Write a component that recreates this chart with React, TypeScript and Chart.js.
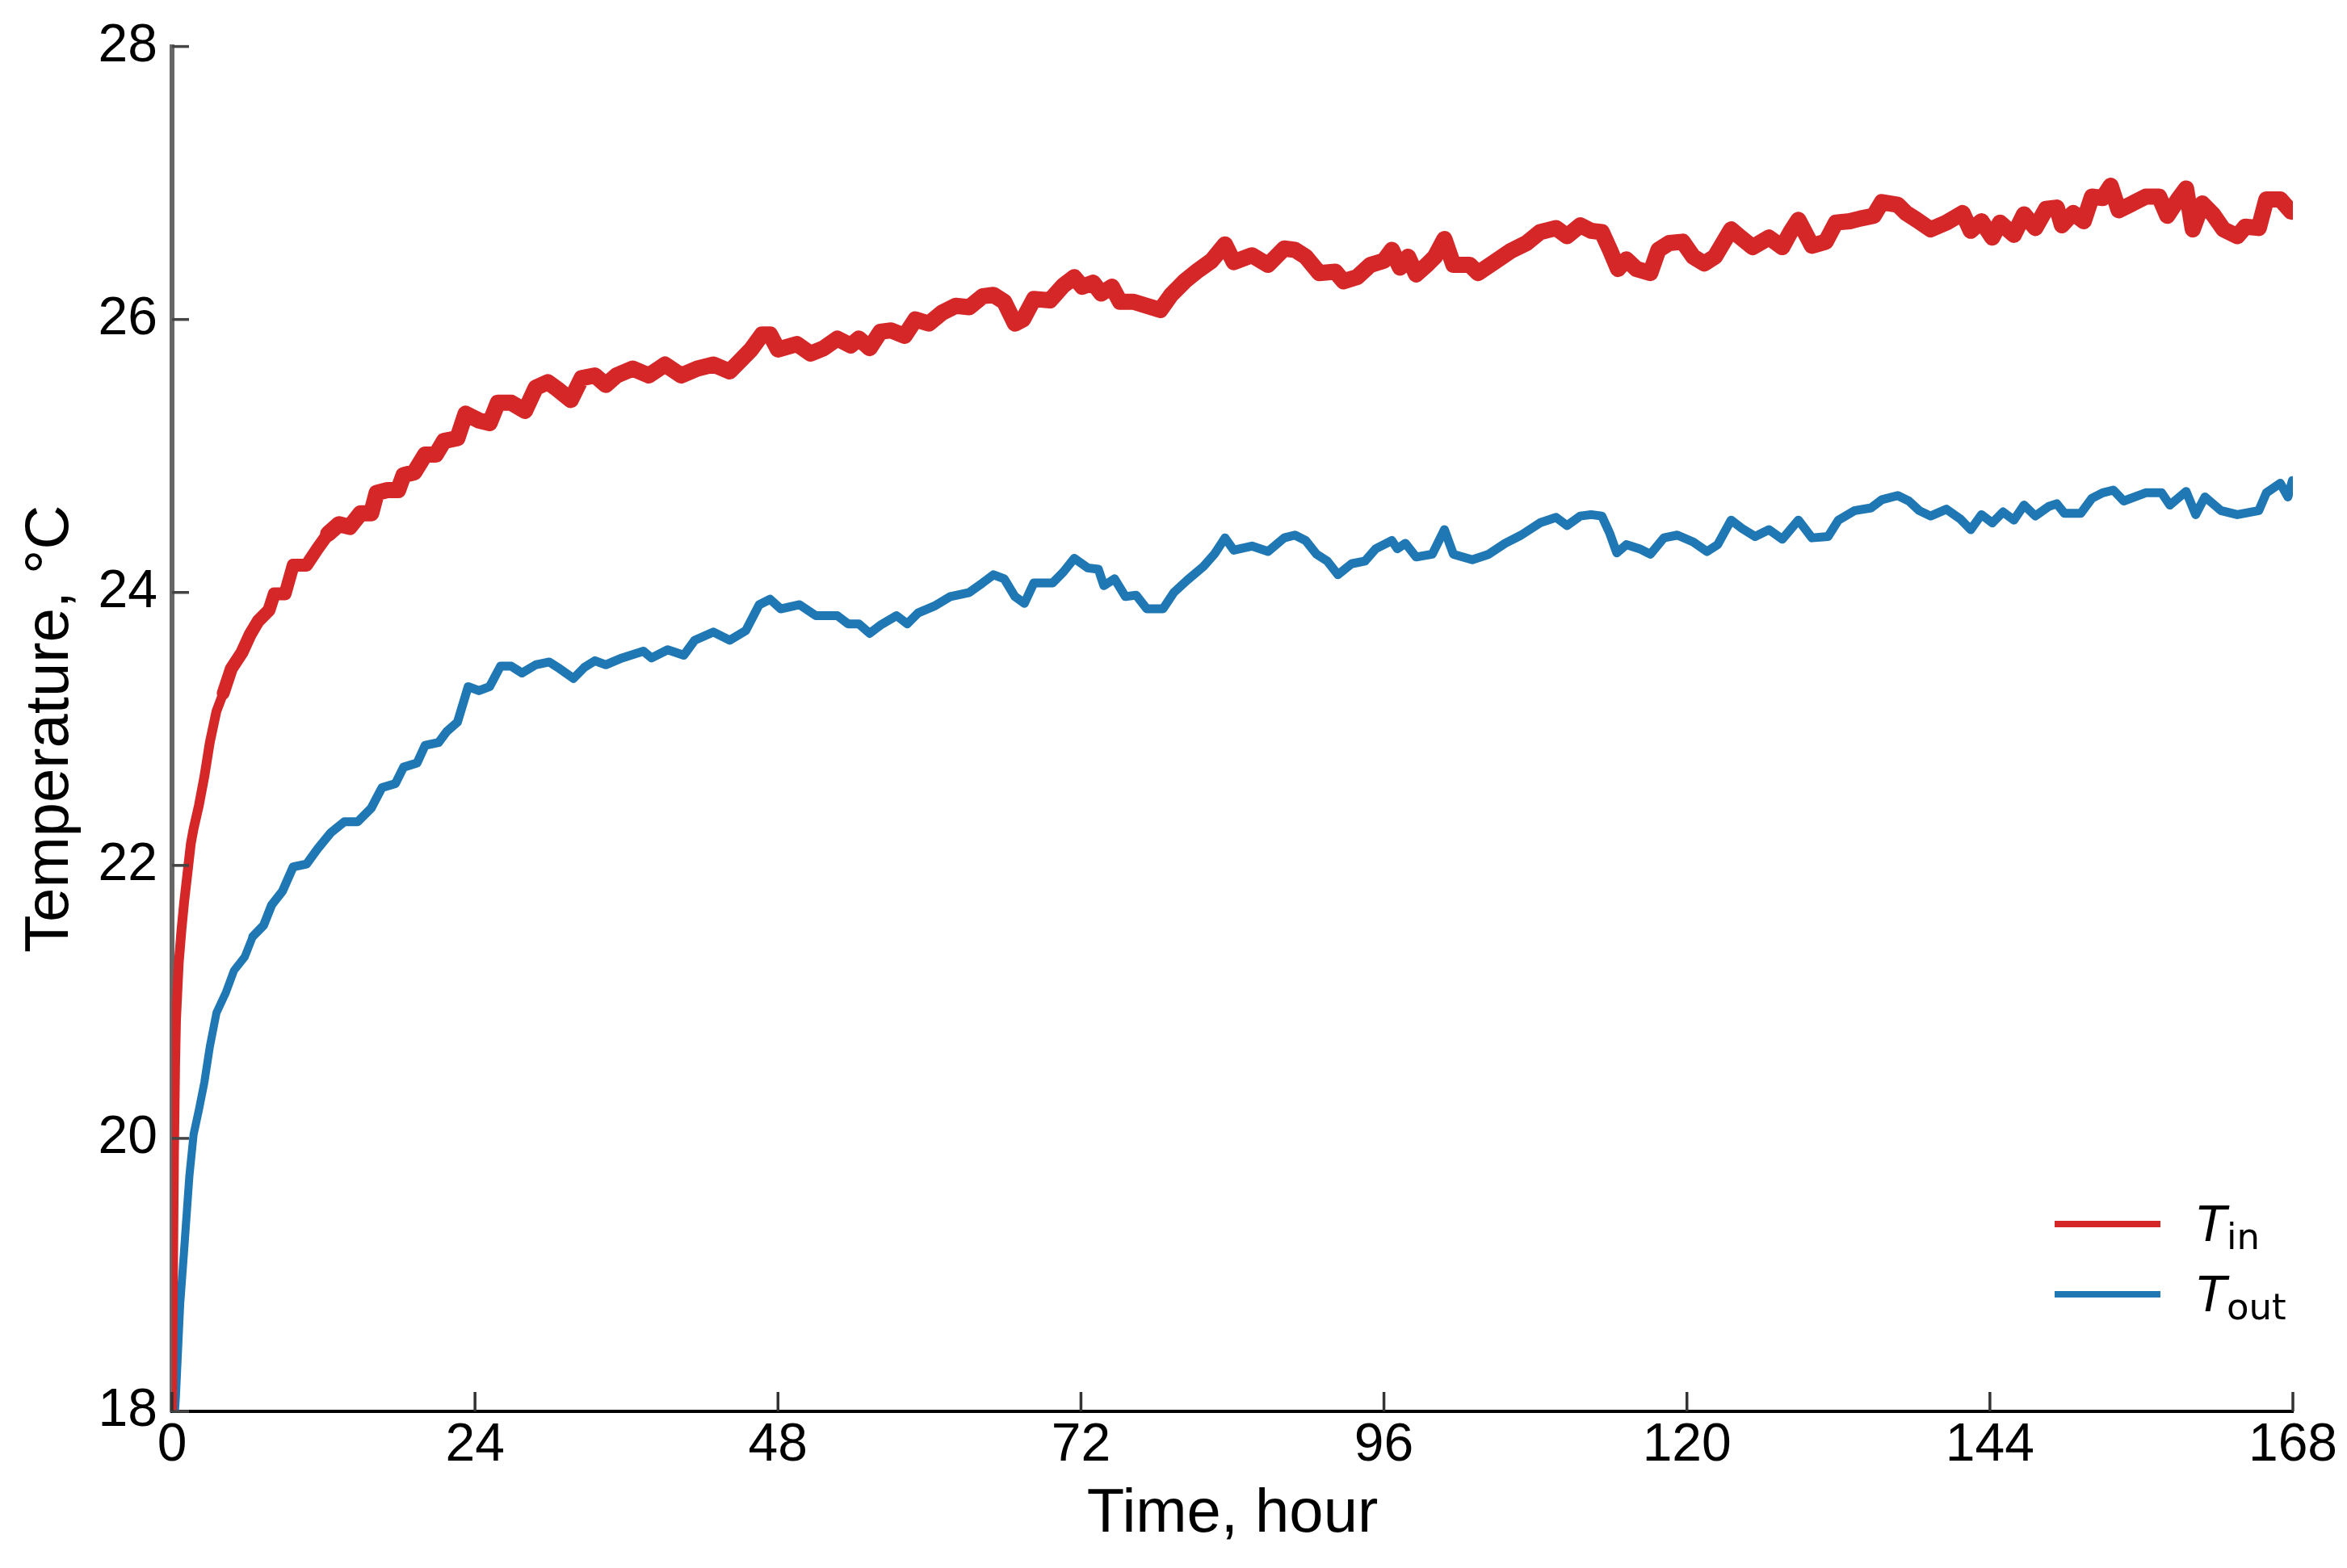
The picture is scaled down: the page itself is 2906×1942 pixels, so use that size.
import React, { useEffect, useRef } from "react";
import { Chart, registerables } from "chart.js";

Chart.register(...registerables);

// ---- Data ----
const xTickValues = [0, 24, 48, 72, 96, 120, 144, 168];
const yTickValues = [18, 20, 22, 24, 26, 28];

const tinHours = [
  0, 0.08, 0.16, 0.25, 0.32, 0.53, 0.75, 0.96, 1.28, 1.49, 1.71, 2.13, 2.56, 2.99, 3.52, 4.05, 4.69, 5.54, 6.18, 6.82,
  7.68, 8.1, 8.96, 9.6, 10.66, 11.52, 12.37, 13.22, 14.08, 14.93, 15.78, 16.21, 17.06, 17.91, 18.34, 19.19, 20.05, 20.9,
  21.54, 22.61, 23.25, 24.31, 25.16, 25.81, 26.87, 27.96, 28.81, 29.77, 30.52, 31.59, 32.44, 33.5, 34.36, 35.21, 36.49,
  37.77, 39.05, 40.33, 41.61, 42.89, 44.17, 45.02, 45.87, 46.73, 47.37, 48.0, 49.5, 50.57, 51.63, 52.7, 53.76, 54.4,
  55.26, 56.11, 56.96, 58.03, 58.88, 59.95, 61.0, 62.08, 63.15, 64.21, 65.07, 65.92, 66.77, 67.41, 68.27, 69.55, 70.61,
  71.47, 72.1, 72.96, 73.6, 74.45, 75.09, 76.16, 77.2, 78.29, 79.14, 80.21, 81.28, 82.34, 83.41, 84.1, 85.54, 86.82,
  88.1, 88.95, 89.8, 90.87, 92.15, 92.79, 93.86, 94.92, 95.99, 96.63, 97.27, 97.91, 98.55, 99.4, 100.04, 100.79, 101.5,
  102.8, 103.45, 104.73, 106.0, 107.3, 108.36, 109.64, 110.5, 111.56, 112.41, 113.26, 113.9, 114.54, 115.2, 116.0,
  117.1, 117.74, 118.6, 119.66, 120.5, 121.37, 122.22, 123.5, 124.14, 125.2, 126.5, 127.55, 128.2, 128.83, 129.9, 131.0,
  131.8, 132.9, 133.74, 134.8, 135.44, 136.7, 137.36, 138.2, 139.3, 140.56, 141.84, 142.48, 143.33, 144.19, 144.8,
  145.9, 146.7, 147.6, 148.45, 149.3, 149.7, 150.6, 151.44, 152.08, 152.93, 153.57, 154.2, 155.3, 156.34, 157.4, 158.05,
  158.9, 159.54, 160.07, 160.82, 161.67, 162.5, 163.6, 164.23, 165.3, 165.9, 167.0, 167.86,
];
const tinValues = [
  18.0, 19.0, 19.9, 20.55, 20.87, 21.28, 21.53, 21.73, 21.99, 22.16, 22.27, 22.44, 22.65, 22.9, 23.13, 23.26, 23.44,
  23.56, 23.69, 23.79, 23.87, 23.99, 23.99, 24.2, 24.2, 24.32, 24.43, 24.5, 24.48, 24.58, 24.58, 24.73, 24.75, 24.75,
  24.86, 24.88, 25.01, 25.01, 25.11, 25.13, 25.31, 25.26, 25.24, 25.39, 25.39, 25.33, 25.5, 25.54, 25.49, 25.41, 25.57,
  25.59, 25.52, 25.59, 25.64, 25.59, 25.67, 25.59, 25.64, 25.67, 25.62, 25.7, 25.78, 25.89, 25.89, 25.78, 25.82, 25.75,
  25.79, 25.86, 25.81, 25.86, 25.79, 25.91, 25.92, 25.88, 26.0, 25.97, 26.05, 26.1, 26.09, 26.17, 26.18, 26.13, 25.97,
  26.0, 26.15, 26.14, 26.25, 26.31, 26.24, 26.27, 26.19, 26.24, 26.13, 26.13, 26.1, 26.07, 26.18, 26.28, 26.36, 26.43,
  26.55, 26.42, 26.47, 26.4, 26.52, 26.51, 26.46, 26.34, 26.35, 26.28, 26.31, 26.4, 26.43, 26.51, 26.38, 26.46, 26.33,
  26.4, 26.46, 26.59, 26.4, 26.4, 26.34, 26.42, 26.5, 26.56, 26.64, 26.67, 26.61, 26.69, 26.65, 26.64, 26.51, 26.37,
  26.44, 26.37, 26.34, 26.51, 26.56, 26.57, 26.46, 26.41, 26.46, 26.66, 26.61, 26.53, 26.6, 26.53, 26.64, 26.73, 26.54,
  26.57, 26.71, 26.72, 26.74, 26.76, 26.86, 26.84, 26.78, 26.73, 26.66, 26.71, 26.78, 26.65, 26.72, 26.6, 26.71, 26.62,
  26.77, 26.67, 26.81, 26.82, 26.69, 26.78, 26.72, 26.9, 26.89, 26.98, 26.8, 26.85, 26.9, 26.9, 26.76, 26.88, 26.96,
  26.66, 26.85, 26.77, 26.66, 26.61, 26.68, 26.67, 26.88, 26.88, 26.79,
];

const toutHours = [
  0, 0.3, 0.64, 0.95, 1.37, 1.71, 2.13, 2.56, 2.99, 3.52, 4.27, 4.91, 5.76, 6.4, 7.25, 7.89, 8.74, 9.6, 10.66, 11.52,
  12.58, 13.65, 14.71, 15.78, 16.63, 17.7, 18.34, 19.41, 20.05, 21.11, 21.75, 22.61, 23.46, 24.31, 25.16, 26.02, 26.87,
  27.72, 28.81, 29.88, 30.73, 31.8, 32.65, 33.5, 34.36, 35.64, 37.34, 37.98, 39.26, 40.54, 41.4, 42.89, 44.17, 45.45,
  46.51, 47.37, 48.22, 49.71, 51.0, 52.7, 53.55, 54.4, 55.26, 56.11, 57.39, 58.24, 59.1, 60.38, 61.66, 63.15, 64.21,
  65.07, 65.92, 66.77, 67.52, 68.27, 69.76, 70.61, 71.47, 72.53, 73.38, 73.81, 74.66, 75.52, 76.37, 77.22, 78.5, 79.36,
  80.42, 81.7, 82.56, 83.41, 84.1, 85.54, 86.82, 88.1, 88.95, 89.8, 90.66, 91.51, 92.36, 93.43, 94.5, 95.35, 96.63,
  97.06, 97.7, 98.55, 99.83, 100.79, 101.5, 103.0, 104.3, 105.6, 106.87, 108.36, 109.64, 110.5, 111.56, 112.41, 113.26,
  113.9, 114.44, 115.2, 116.25, 117.1, 118.17, 119.24, 120.5, 121.58, 122.43, 123.5, 124.35, 125.4, 126.5, 127.55,
  128.83, 129.9, 131.18, 132.0, 133.3, 134.6, 135.44, 136.7, 137.58, 138.4, 139.3, 140.56, 141.63, 142.48, 143.33,
  144.19, 145.04, 145.9, 146.7, 147.6, 148.66, 149.3, 149.9, 151.2, 152.08, 152.93, 153.78, 154.6, 156.34, 157.6,
  158.26, 159.54, 160.3, 161.03, 162.3, 163.6, 165.3, 165.9, 167.0, 167.6, 167.96,
];
const toutValues = [
  17.7, 18.1, 18.78, 19.17, 19.72, 20.03, 20.21, 20.41, 20.67, 20.92, 21.07, 21.23, 21.33, 21.48, 21.56, 21.71, 21.81,
  21.99, 22.01, 22.12, 22.24, 22.32, 22.32, 22.42, 22.57, 22.6, 22.72, 22.75, 22.88, 22.9, 22.98, 23.05, 23.31, 23.28,
  23.31, 23.46, 23.46, 23.41, 23.47, 23.49, 23.44, 23.37, 23.45, 23.5, 23.47, 23.52, 23.57, 23.52, 23.58, 23.54, 23.65,
  23.71, 23.65, 23.72, 23.91, 23.95, 23.88, 23.91, 23.83, 23.83, 23.77, 23.77, 23.7, 23.76, 23.83, 23.77, 23.85, 23.9,
  23.97, 24.0, 24.07, 24.13, 24.1, 23.97, 23.92, 24.07, 24.07, 24.15, 24.25, 24.18, 24.17, 24.05, 24.1, 23.97, 23.98,
  23.88, 23.88, 24.0, 24.09, 24.19, 24.28, 24.4, 24.31, 24.34, 24.3, 24.4, 24.42, 24.38, 24.28, 24.23, 24.13, 24.21,
  24.23, 24.32, 24.38, 24.32, 24.36, 24.26, 24.28, 24.46, 24.28, 24.24, 24.28, 24.36, 24.42, 24.51, 24.55, 24.49, 24.56,
  24.57, 24.56, 24.43, 24.29, 24.35, 24.32, 24.28, 24.4, 24.42, 24.37, 24.3, 24.35, 24.53, 24.47, 24.41, 24.46, 24.39,
  24.53, 24.4, 24.41, 24.53, 24.6, 24.62, 24.68, 24.71, 24.67, 24.6, 24.56, 24.61, 24.54, 24.46, 24.57, 24.51, 24.59,
  24.53, 24.64, 24.56, 24.63, 24.65, 24.58, 24.58, 24.69, 24.73, 24.75, 24.67, 24.73, 24.73, 24.64, 24.74, 24.57, 24.7,
  24.6, 24.57, 24.6, 24.73, 24.8, 24.7, 24.82,
];

const seriesNames = ["T_in", "T_out"];
const seriesSub = ["in", "out"];
const seriesColors = ["#d62728", "#1f77b4"];

const W = 2906;
const H = 1942;

const innerTicksAndLegend = {
  id: "innerTicksAndLegend",
  afterDraw(chart: any) {
    const ctx = chart.ctx;
    const xs = chart.scales.x;
    const ys = chart.scales.y;
    const area = chart.chartArea;
    ctx.save();
    // inward y ticks
    ctx.strokeStyle = "#444";
    ctx.lineWidth = 3.5;
    ys.ticks.forEach((t: any) => {
      const p = ys.getPixelForValue(t.value);
      ctx.beginPath();
      ctx.moveTo(area.left, p);
      ctx.lineTo(area.left + 21, p);
      ctx.stroke();
    });
    // inward x ticks
    ctx.strokeStyle = "#333";
    ctx.lineWidth = 3.5;
    xs.ticks.forEach((t: any) => {
      const p = xs.getPixelForValue(t.value);
      ctx.beginPath();
      ctx.moveTo(p, area.bottom);
      ctx.lineTo(p, area.bottom - 24);
      ctx.stroke();
    });
    // legend
    const rows = [1516, 1603];
    chart.data.datasets.forEach((ds: any, i: number) => {
      const y = rows[i];
      ctx.strokeStyle = ds.borderColor;
      ctx.lineWidth = 8;
      ctx.lineCap = "butt";
      ctx.beginPath();
      ctx.moveTo(2544, y);
      ctx.lineTo(2675, y);
      ctx.stroke();
      ctx.fillStyle = "#000";
      ctx.textBaseline = "alphabetic";
      ctx.textAlign = "left";
      ctx.font = 'italic 60px "DejaVu Sans"';
      ctx.fillText("T", 2720, y + 21);
      ctx.font = '45px "DejaVu Sans"';
      ctx.fillText(seriesSub[i], 2757, y + 31);
    });
    ctx.restore();
  },
};

export default function App() {
  const ref = useRef<HTMLCanvasElement | null>(null);

  useEffect(() => {
    if (!ref.current) return;
    document.body.style.margin = "0";
    const tickFont = { family: '"Liberation Sans", Arial, sans-serif', size: 66 };
    const titleFont = { family: '"Liberation Sans", Arial, sans-serif', size: 76 };
    const chart = new Chart(ref.current, {
      type: "line",
      data: {
        datasets: [
          {
            label: seriesNames[0],
            data: tinHours.map((h, i) => ({ x: h, y: tinValues[i] })),
            borderColor: seriesColors[0],
            backgroundColor: seriesColors[0],
            borderWidth: 20,
            pointRadius: 0,
            tension: 0,
            borderJoinStyle: "round",
            borderCapStyle: "round",
            segment: {
              borderWidth: (c: any) => (c.p0.parsed.x < 4 ? 12 : c.p0.parsed.x < 12 ? 16 : 20),
            },
          },
          {
            label: seriesNames[1],
            data: toutHours.map((h, i) => ({ x: h, y: toutValues[i] })),
            borderColor: seriesColors[1],
            backgroundColor: seriesColors[1],
            borderWidth: 11,
            pointRadius: 0,
            tension: 0,
            borderJoinStyle: "round",
            borderCapStyle: "round",
            segment: {
              borderWidth: (c: any) => (c.p0.parsed.x < 6 ? 10 : 11),
            },
          },
        ],
      },
      options: {
        animation: false,
        responsive: false,
        devicePixelRatio: 1,
        layout: { padding: { left: 0, top: 52, right: W - 2839, bottom: 0 } },
        plugins: {
          legend: { display: false },
          tooltip: { enabled: false },
        },
        scales: {
          x: {
            type: "linear",
            min: 0,
            max: 168,
            afterBuildTicks: (s: any) => {
              s.ticks = xTickValues.map((v) => ({ value: v }));
            },
            afterFit: (s: any) => {
              s.height = H - 1748;
            },
            grid: { display: false, drawTicks: false },
            border: { display: true, color: "#000", width: 4 },
            ticks: {
              font: tickFont,
              color: "#000",
              padding: 3,
              maxRotation: 0,
              autoSkip: false,
            },
            title: {
              display: true,
              text: "Time, hour",
              font: titleFont,
              color: "#000",
              padding: { top: 0, bottom: 20 },
            },
          },
          y: {
            type: "linear",
            min: 18,
            max: 28,
            afterBuildTicks: (s: any) => {
              s.ticks = yTickValues.map((v) => ({ value: v }));
            },
            afterFit: (s: any) => {
              s.width = 213;
            },
            grid: { display: false, drawTicks: false },
            border: { display: true, color: "#666", width: 6 },
            ticks: {
              font: tickFont,
              color: "#000",
              padding: 18,
            },
            title: {
              display: true,
              text: "Temperature, °C",
              font: titleFont,
              color: "#000",
              padding: { top: 17, bottom: 0 },
            },
          },
        },
      },
      plugins: [innerTicksAndLegend],
    } as any);
    return () => chart.destroy();
  }, []);

  return (
    <div style={{ position: "absolute", left: 0, top: 0, width: W, height: H, background: "#fff" }}>
      <canvas ref={ref} width={W} height={H} style={{ width: W, height: H, display: "block" }} />
    </div>
  );
}
